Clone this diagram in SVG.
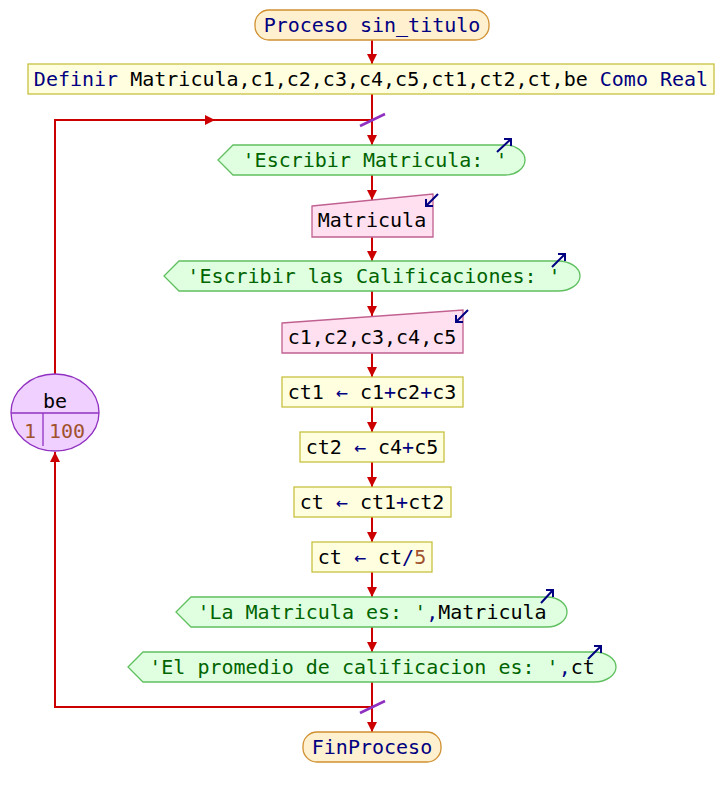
<svg xmlns="http://www.w3.org/2000/svg" width="724" height="797" viewBox="0 0 724 797">
<defs>
<style>
text{font-family:"DejaVu Sans Mono","Liberation Mono",monospace;font-size:20px;fill:#000}
.c{text-anchor:middle}
.kw{fill:#000080}
.st{fill:#006400}
.nu{fill:#a0522d}
.op{fill:#000080}
.term{fill:#fff0d0;stroke:#d09030;stroke-width:1.3}
.proc{fill:#ffffe0;stroke:#c8c040;stroke-width:1.3}
.out{fill:#e0ffe0;stroke:#60c060;stroke-width:1.3}
.inp{fill:#ffe0f0;stroke:#c06090;stroke-width:1.3}
.loop{fill:#f0d0ff;stroke:#9030c0;stroke-width:1.3}
.ln{fill:none;stroke:#cc0000;stroke-width:2}
.ico{fill:none;stroke:#000080;stroke-width:2}
.sl{stroke:#9030c0;stroke-width:2.5}
</style>
<marker id="ah" viewBox="0 0 10 10" refX="10" refY="5" markerWidth="10" markerHeight="10" markerUnits="userSpaceOnUse" orient="auto">
<path d="M0,0 L10,5 L0,10 Z" fill="#cc0000"/>
</marker>
</defs>

<g id="connectors">
<line class="ln" x1="372" y1="40" x2="372" y2="64" marker-end="url(#ah)"/>
<line class="ln" x1="372" y1="94" x2="372" y2="145" marker-end="url(#ah)"/>
<line class="ln" x1="372" y1="175" x2="372" y2="200" marker-end="url(#ah)"/>
<line class="ln" x1="372" y1="237" x2="372" y2="261" marker-end="url(#ah)"/>
<line class="ln" x1="372" y1="291" x2="372" y2="316" marker-end="url(#ah)"/>
<line class="ln" x1="372" y1="353" x2="372" y2="377" marker-end="url(#ah)"/>
<line class="ln" x1="372" y1="407" x2="372" y2="432" marker-end="url(#ah)"/>
<line class="ln" x1="372" y1="462" x2="372" y2="487" marker-end="url(#ah)"/>
<line class="ln" x1="372" y1="517" x2="372" y2="542" marker-end="url(#ah)"/>
<line class="ln" x1="372" y1="572" x2="372" y2="597" marker-end="url(#ah)"/>
<line class="ln" x1="372" y1="627" x2="372" y2="652" marker-end="url(#ah)"/>
<line class="ln" x1="372" y1="682" x2="372" y2="732" marker-end="url(#ah)"/>
<path class="ln" d="M372,707 L55,707 L55,452" marker-end="url(#ah)"/>
<path class="ln" d="M55,374 L55,120 L215,120" marker-end="url(#ah)"/>
<line class="ln" x1="210" y1="120" x2="372" y2="120"/>
<line class="sl" x1="360" y1="126" x2="385" y2="114"/>
<line class="sl" x1="360" y1="713" x2="385" y2="701"/>
</g>

<g id="start">
<rect class="term" x="255" y="10" width="234" height="30" rx="14"/>
<text class="c kw" x="372" y="32">Proceso sin_titulo</text>
</g>

<g id="definir">
<rect class="proc" x="28" y="64" width="686" height="30"/>
<text class="c" x="371" y="86"><tspan class="kw">Definir</tspan> Matricula,c1,c2,c3,c4,c5,ct1,ct2,ct,be <tspan class="kw">Como Real</tspan></text>
</g>

<g id="loop">
<ellipse class="loop" cx="55" cy="412.5" rx="44" ry="38.5"/>
<line class="loop" x1="11" y1="413" x2="99" y2="413"/>
<line class="loop" x1="43" y1="413" x2="43" y2="446"/>
<text class="c" x="55" y="408">be</text>
<text class="c nu" x="30" y="438">1</text>
<text class="c nu" x="67" y="438">100</text>
</g>

<g id="out1">
<path class="out" d="M218,160 L233,145 L505,145 A20,15 0 0 1 505,175 L233,175 Z"/>
<text class="c st" x="375" y="167">'Escribir Matricula: '</text>
<path class="ico" d="M497,152 L511,139 M504,139 L511,139 L511,146"/>
</g>

<g id="in1">
<path class="inp" d="M312,206 L433,194 L433,237 L312,237 Z"/>
<text class="c" x="372" y="227">Matricula</text>
<path class="ico" d="M438,194 L426,206 M426,199 L426,206 L433,206"/>
</g>

<g id="out2">
<path class="out" d="M164,276 L179,261 L558,261 A22,15 0 0 1 558,291 L179,291 Z"/>
<text class="c st" x="374" y="283">'Escribir las Calificaciones: '</text>
<path class="ico" d="M552,267 L565,254 M558,254 L565,254 L565,261"/>
</g>

<g id="in2">
<path class="inp" d="M282,323 L463,310 L463,353 L282,353 Z"/>
<text class="c" x="372" y="344">c1,c2,c3,c4,c5</text>
<path class="ico" d="M468,310 L456,322 M456,315 L456,322 L463,322"/>
</g>

<g id="a1">
<rect class="proc" x="282" y="377" width="181" height="30"/>
<text class="c" x="372" y="399">ct1 <tspan class="op">←</tspan> c1<tspan class="op">+</tspan>c2<tspan class="op">+</tspan>c3</text>
</g>

<g id="a2">
<rect class="proc" x="300" y="432" width="144" height="30"/>
<text class="c" x="372" y="454">ct2 <tspan class="op">←</tspan> c4<tspan class="op">+</tspan>c5</text>
</g>

<g id="a3">
<rect class="proc" x="294" y="487" width="157" height="30"/>
<text class="c" x="372" y="509">ct <tspan class="op">←</tspan> ct1<tspan class="op">+</tspan>ct2</text>
</g>

<g id="a4">
<rect class="proc" x="312" y="542" width="120" height="30"/>
<text class="c" x="372" y="564">ct <tspan class="op">←</tspan> ct<tspan class="op">/</tspan><tspan class="nu">5</tspan></text>
</g>

<g id="out3">
<path class="out" d="M176,612 L191,597 L547,597 A20,15 0 0 1 547,627 L191,627 Z"/>
<text class="c" x="372" y="619"><tspan class="st">'La Matricula es: '</tspan><tspan class="op">,</tspan>Matricula</text>
<path class="ico" d="M541,603 L553,590 M546,590 L553,590 L553,597"/>
</g>

<g id="out4">
<path class="out" d="M128,667 L143,652 L594,652 A22,15 0 0 1 594,682 L143,682 Z"/>
<text class="c" x="372" y="674"><tspan class="st">'El promedio de calificacion es: '</tspan><tspan class="op">,</tspan>ct</text>
<path class="ico" d="M588,659 L601,646 M594,646 L601,646 L601,653"/>
</g>

<g id="end">
<rect class="term" x="303" y="732" width="138" height="30" rx="14"/>
<text class="c kw" x="372" y="754">FinProceso</text>
</g>
</svg>
